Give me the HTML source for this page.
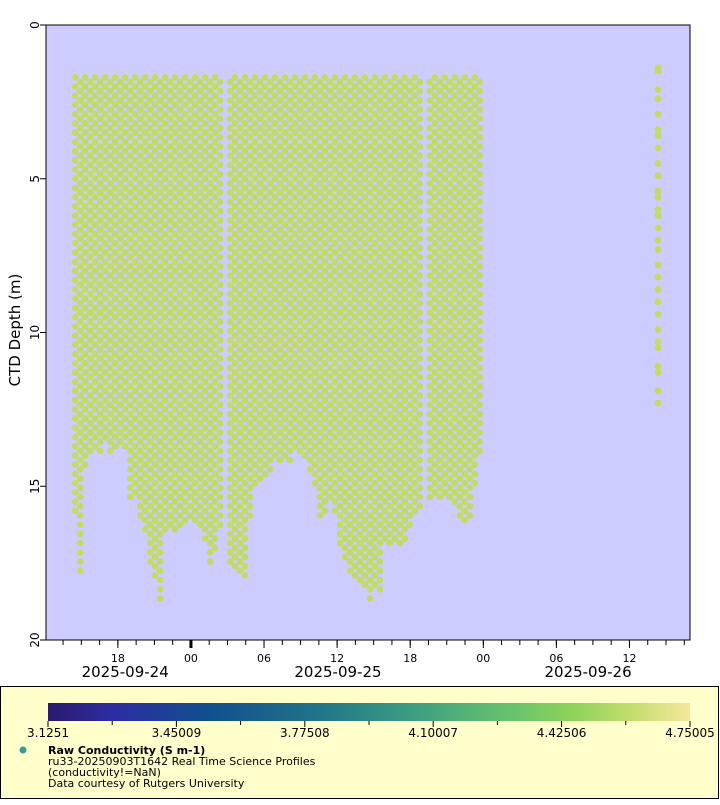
<!DOCTYPE html>
<html><head><meta charset="utf-8"><style>
body{margin:0;background:#fff;width:720px;height:800px;overflow:hidden;font-family:"Liberation Sans","DejaVu Sans",sans-serif}
svg text{font-family:"DejaVu Sans","Liberation Sans",sans-serif}
</style></head><body>
<svg id="chart" width="720" height="800" xmlns="http://www.w3.org/2000/svg">
<rect x="46" y="25" width="644" height="615" fill="#ccccff"/>
<g id="dots"></g>
<rect x="46" y="25" width="644" height="615" fill="none" stroke="#000" stroke-width="1"/>
<g id="axes"></g>
<text transform="translate(20,330) rotate(-90)" text-anchor="middle" font-size="15">CTD Depth (m)</text>
<rect x="0.5" y="686.5" width="718" height="112" fill="#ffffcc" stroke="#000"/>
<defs><linearGradient id="cmap" x1="0" x2="1" y1="0" y2="0">
<stop offset="0" stop-color="#2a1a6c"/><stop offset="0.1" stop-color="#2c2ca2"/><stop offset="0.25" stop-color="#114f8e"/><stop offset="0.42" stop-color="#217489"/><stop offset="0.57" stop-color="#3d9e82"/><stop offset="0.72" stop-color="#67c36e"/><stop offset="0.82" stop-color="#8fd35a"/><stop offset="0.91" stop-color="#c4dd6e"/><stop offset="1" stop-color="#f5e89c"/>
</linearGradient></defs>
<rect x="48" y="703" width="642" height="18" fill="url(#cmap)"/>
<g id="cbar"></g>
<circle cx="23" cy="750" r="3.5" fill="#3b9a8f"/>
<text x="48" y="754" font-size="11" font-weight="bold">Raw Conductivity (S m-1)</text>
<text x="48" y="765" font-size="11">ru33-20250903T1642 Real Time Science Profiles</text>
<text x="48" y="776" font-size="11">(conductivity!=NaN)</text>
<text x="48" y="787" font-size="11">Data courtesy of Rutgers University</text>
</svg>
<script>
// hours relative to 2025-09-24 00:00
const xDomain=[-11.9,40.97];
const yDomain=[0,20];
const tickHours=[-6,0,6,12,18,24,30,36];
const tickLabels=["18","00","06","12","18","00","06","12"];
const dateHours=[-5.4,12.07,32.6];
const dateLabels=["2025-09-24","2025-09-25","2025-09-26"];
const yTicks=[0,5,10,15,20];
const cbarLabels=["3.1251","3.45009","3.77508","4.10007","4.42506","4.75005"];
const profileStartHour=-9.5;
const profileStepHour=0.41;
const profileMinDepth=1.7;
const profileMaxDepth=[16,18,14.5,14,14,14,13.5,14,14,13.8,14,15.5,15.5,16,16.5,17.5,18,18.7,16.7,16.5,16.5,16.5,16.3,16,16.3,16.5,16.8,17.5,17.3,16.5,0,17.5,17.8,18,18.2,16,15,14.8,14.8,14.5,14.3,14.3,14.3,14.2,14,14,14.2,14.5,15,16,16,15.5,16,17,17.5,17.8,18,18.2,18.5,18.9,18.5,18.5,17,17,17,17,16.8,16.5,16,15.7,0,15.5,15.3,15.5,15.5,15.5,15.8,16.2,16.3,16,15,14];
const loneHour=38.34;
const loneDepths=[1.4,1.5,2.1,2.4,2.9,3.4,3.6,4.0,4.5,4.9,5.4,5.6,6.0,6.2,6.6,7.0,7.3,7.8,8.2,8.6,9.0,9.4,9.9,10.3,10.5,11.1,11.3,11.9,12.3];
const depthStep=0.3;
const NS="http://www.w3.org/2000/svg";
const X=h=>46+(h-xDomain[0])/(xDomain[1]-xDomain[0])*644;
const Y=d=>25+(d-yDomain[0])/(yDomain[1]-yDomain[0])*615;
function mk(tag,attrs,parent){const e=document.createElementNS(NS,tag);for(const k in attrs)e.setAttribute(k,attrs[k]);parent.appendChild(e);return e;}
const dots=document.getElementById('dots');
profileMaxDepth.forEach((md,i)=>{
  if(!md)return;
  const h=profileStartHour+i*profileStepHour;
  const off=(i%2)*depthStep/2;
  for(let d=profileMinDepth+off;d<=md;d+=depthStep){
    const c=mk('circle',{cx:X(h).toFixed(1),cy:Y(d).toFixed(1),r:3.3,fill:'#c1dc64'},dots);
    
    
  }
});
loneDepths.forEach(d=>{
  const c=mk('circle',{cx:X(loneHour).toFixed(1),cy:Y(d).toFixed(1),r:3.5,fill:'#c1dc64'},dots);
  
  
});
const ax=document.getElementById('axes');
for(let h=-10.5;h<=40.9;h+=1.5){
  mk('line',{x1:X(h),x2:X(h),y1:640,y2:645,stroke:'#000'},ax);
}
tickHours.forEach((h,i)=>{
  mk('line',{x1:X(h),x2:X(h),y1:640,y2:648,stroke:'#000','stroke-width':h===0?3:1},ax);
  const t=mk('text',{x:X(h),y:662,'text-anchor':'middle','font-size':11},ax);
  t.textContent=tickLabels[i];
  
  
});
dateHours.forEach((h,i)=>{
  const t=mk('text',{x:X(h),y:677,'text-anchor':'middle','font-size':15},ax);
  t.textContent=dateLabels[i];
  
  
});
yTicks.forEach(d=>{
  mk('line',{x1:40,x2:46,y1:Y(d),y2:Y(d),stroke:'#000'},ax);
  const t=mk('text',{transform:`translate(39,${Y(d)}) rotate(-90)`,'text-anchor':'middle','font-size':12},ax);
  t.textContent=String(d);
  
  
});
const cb=document.getElementById('cbar');
for(let i=0;i<=10;i++){
  const x=48+i*642/10;
  mk('line',{x1:x,x2:x,y1:721,y2:i%2?725:727,stroke:'#000'},cb);
}
cbarLabels.forEach((l,i)=>{
  const t=mk('text',{x:48+i*642/5,y:737,'text-anchor':'middle','font-size':12},cb);
  t.textContent=l;
  
  
});
</script>
</body></html>
